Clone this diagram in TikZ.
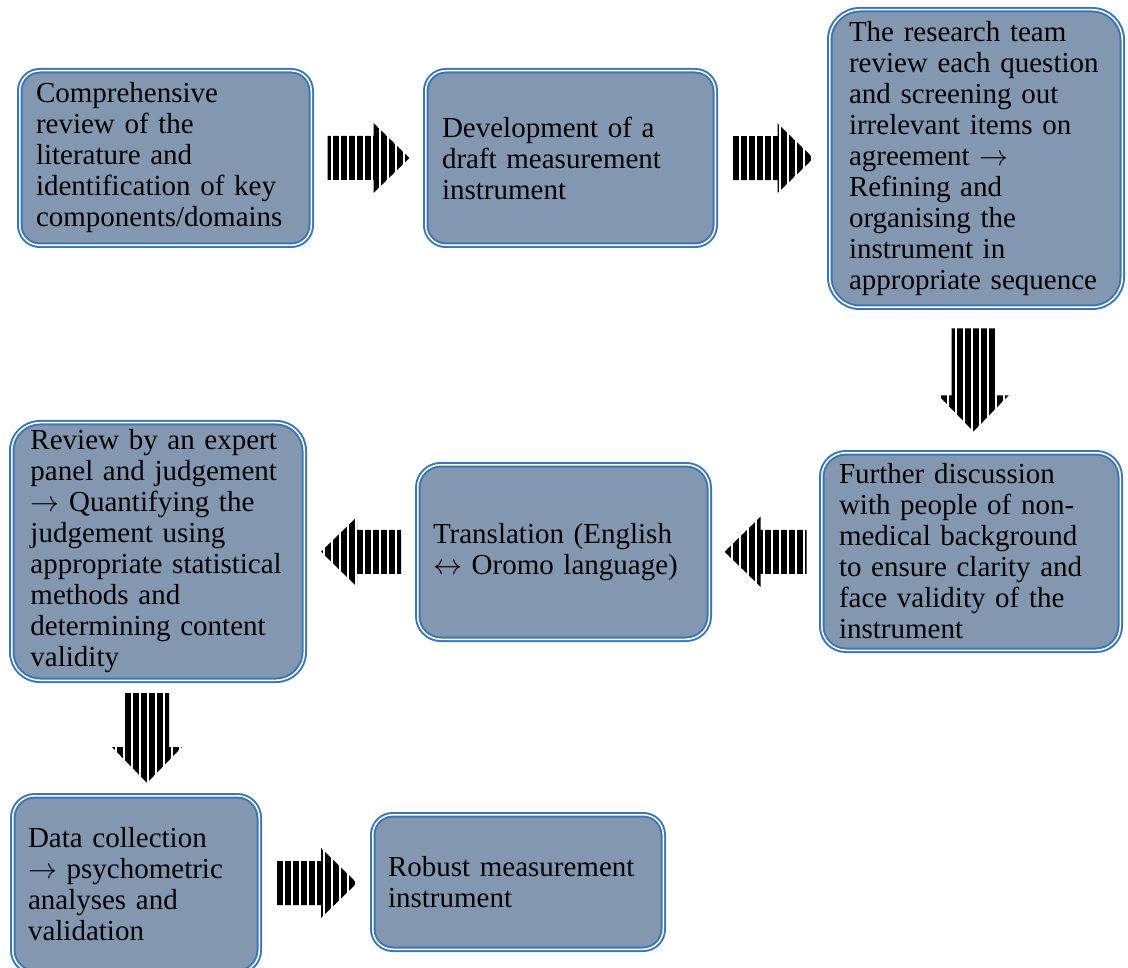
\RequirePackage{fix-cm}
\documentclass[tikz,border=0pt]{standalone}
\usepackage{fontspec}
\setmainfont{Liberation Serif}
\usetikzlibrary{calc,patterns.meta}
\definecolor{boxfill}{HTML}{8497B0}
\definecolor{boxline}{HTML}{3A76B5}
\newcommand\rarr{$\rightarrow$}
\newcommand\lrarr{$\leftrightarrow$}
\begin{document}
\begin{tikzpicture}[x=1pt,y=-1pt,
  box/.style={rectangle, rounded corners=#1, fill=boxfill, draw=boxline,
    double=white, double distance=1.5pt, line width=2pt, align=left,
    font=\fontsize{29}{31}\selectfont, inner ysep=0pt},
  box/.default=22pt,
  stripes/.style={pattern={Lines[angle=90,distance=8pt,line width=5.5pt]}},
  pics/barrow/.style={code={
    \fill[stripes] ({-0.5*#1},-22) -- ({0.5*#1-36},-22) -- ({0.5*#1-36},-35)
      -- ({0.5*#1},0) -- ({0.5*#1-36},35) -- ({0.5*#1-36},22)
      -- ({-0.5*#1},22) -- cycle;}}
]
\useasboundingbox (0,0) rectangle (1128,968);
\clip (0,0) rectangle (1128,968);

\node[box=20pt, minimum width=291.5pt, minimum height=174.5pt, text width=259pt, inner xsep=16.25pt]
  (b1) at (165.5,158) {Comprehensive\\review of the\\literature and\\identification of key\\components/domains};
\node[box=20pt, minimum width=289.5pt, minimum height=174.5pt, text width=257pt, inner xsep=16.25pt]
  (b2) at (570.5,158) {Development of a\\draft measurement\\instrument};
\node[box=30pt, minimum width=292.5pt, minimum height=297.5pt, text width=254pt, inner xsep=19.25pt]
  (b3) at (976,158.5) {The research team\\review each question\\and screening out\\irrelevant items on\\agreement \rarr\\Refining and\\organising the\\instrument in\\appropriate sequence};
\node[box=24pt, minimum width=298.5pt, minimum height=197.5pt, text width=264pt, inner xsep=17.25pt]
  (b4) at (971,551.5) {Further discussion\\with people of non-\\medical background\\to ensure clarity and\\face validity of the\\instrument};
\node[box=23pt, minimum width=291.5pt, minimum height=174.5pt, text width=261pt, inner xsep=15.25pt]
  (b5) at (563.5,552) {Translation (English\\\lrarr{} Oromo language)};
\node[box=28pt, minimum width=292.5pt, minimum height=257.5pt, text width=255pt, inner xsep=18.75pt]
  (b6) at (158,551.5) {Review by an expert\\panel and judgement\\\rarr{} Quantifying the\\judgement using\\appropriate statistical\\methods and\\determining content\\validity};
\node[box=22pt, minimum width=246.5pt, minimum height=176.5pt, text width=216pt, inner xsep=15.25pt]
  (b7) at (136,884) {Data collection\\\rarr{} psychometric\\analyses and\\validation};
\node[box=20pt, minimum width=290.5pt, minimum height=134.5pt, text width=260pt, inner xsep=15.25pt]
  (b8) at (518,882) {Robust measurement\\instrument};

\coordinate (m1) at ($(b1.east)!0.5!(b2.west)$);
\coordinate (m2) at ($(b2.east)!0.5!(b3.west)$);
\coordinate (m3) at ($(b3.south)!0.5!(b4.north)$);
\coordinate (m4) at ($(b4.west)!0.5!(b5.east)$);
\coordinate (m5) at ($(b5.west)!0.5!(b6.east)$);
\coordinate (m6) at ($(b6.south)!0.5!(b7.north)$);
\coordinate (m7) at ($(b7.east)!0.5!(b8.west)$);

\pic at (m1) {barrow=82};
\pic at (m2) {barrow=82};
\pic[rotate=-90] at (m3) {barrow=103};
\pic[rotate=180] at (m4) {barrow=82};
\pic[rotate=180] at (m5) {barrow=80};
\pic[rotate=-90] at (m6) {barrow=90};
\pic at (m7) {barrow=82};
\end{tikzpicture}
\end{document}
